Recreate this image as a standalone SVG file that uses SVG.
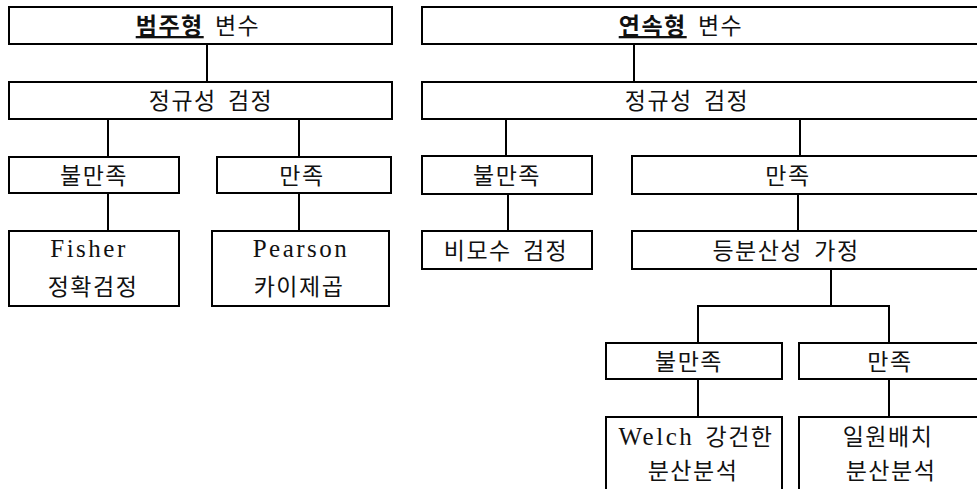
<svg xmlns="http://www.w3.org/2000/svg" width="977" height="489" viewBox="0 0 977 489">
<style>
.box{fill:#fff;stroke:#000;stroke-width:2}
.con line,.con polyline{stroke:#000;stroke-width:2;fill:none}
text{font-family:"Liberation Serif","Noto Sans CJK KR",serif;font-size:23px;fill:#111;text-anchor:middle;letter-spacing:1.5px;word-spacing:4px}
.lat{font-size:25px;letter-spacing:2.5px}
.hl{font-weight:bold;text-decoration:underline}
</style>
<rect width="977" height="489" fill="#fff"/>
<g class="con">
<line x1="207" y1="44" x2="207" y2="82"/>
<line x1="108" y1="119" x2="108" y2="157"/>
<line x1="299" y1="119" x2="299" y2="157"/>
<line x1="108" y1="193" x2="108" y2="231"/>
<line x1="299" y1="193" x2="299" y2="231"/>
<line x1="634" y1="44" x2="634" y2="82"/>
<line x1="506" y1="119" x2="506" y2="156"/>
<line x1="800" y1="119" x2="800" y2="156"/>
<line x1="508" y1="194" x2="508" y2="231"/>
<line x1="798" y1="194" x2="798" y2="231"/>
<line x1="831" y1="269" x2="831" y2="306"/>
<polyline points="698,343 698,306 889,306 889,343"/>
<line x1="698" y1="379" x2="698" y2="417"/>
<line x1="889" y1="379" x2="889" y2="417"/>
</g>
<g id="cat-var"><rect class="box" x="9" y="7" width="383" height="37"/><text x="198" y="34"><tspan class="hl">범주형</tspan> 변수</text></g>
<g id="cat-norm"><rect class="box" x="9" y="82" width="383" height="37"/><text x="211" y="109">정규성 검정</text></g>
<g id="cat-no"><rect class="box" x="9" y="157" width="170" height="36"/><text x="94" y="184">불만족</text></g>
<g id="cat-yes"><rect class="box" x="217" y="157" width="174" height="36"/><text x="302" y="184">만족</text></g>
<g id="fisher"><rect class="box" x="9" y="231" width="170" height="75"/><text class="lat" x="89" y="257">Fisher</text><text x="93" y="295">정확검정</text></g>
<g id="pearson"><rect class="box" x="212" y="231" width="177" height="75"/><text class="lat" x="301" y="257">Pearson</text><text x="299" y="295">카이제곱</text></g>
<g id="con-var"><rect class="box" x="422" y="7" width="565" height="37"/><text x="681" y="34"><tspan class="hl">연속형</tspan> 변수</text></g>
<g id="con-norm"><rect class="box" x="422" y="82" width="565" height="37"/><text x="687" y="109">정규성 검정</text></g>
<g id="con-no"><rect class="box" x="422" y="156" width="170" height="38"/><text x="507" y="184">불만족</text></g>
<g id="con-yes"><rect class="box" x="632" y="156" width="355" height="38"/><text x="788" y="184">만족</text></g>
<g id="nonparam"><rect class="box" x="422" y="231" width="170" height="38"/><text x="506" y="259">비모수 검정</text></g>
<g id="homosc"><rect class="box" x="632" y="231" width="355" height="38"/><text x="786" y="259">등분산성 가정</text></g>
<g id="homo-no"><rect class="box" x="606" y="343" width="176" height="36"/><text x="689" y="370">불만족</text></g>
<g id="homo-yes"><rect class="box" x="799" y="343" width="188" height="36"/><text x="890" y="370">만족</text></g>
<g id="welch"><rect class="box" x="606" y="417" width="176" height="80"/><text x="696" y="445"><tspan class="lat">Welch</tspan> 강건한</text><text x="693" y="479">분산분석</text></g>
<g id="anova"><rect class="box" x="799" y="417" width="188" height="80"/><text x="888" y="445">일원배치</text><text x="891" y="479">분산분석</text></g>
</svg>
